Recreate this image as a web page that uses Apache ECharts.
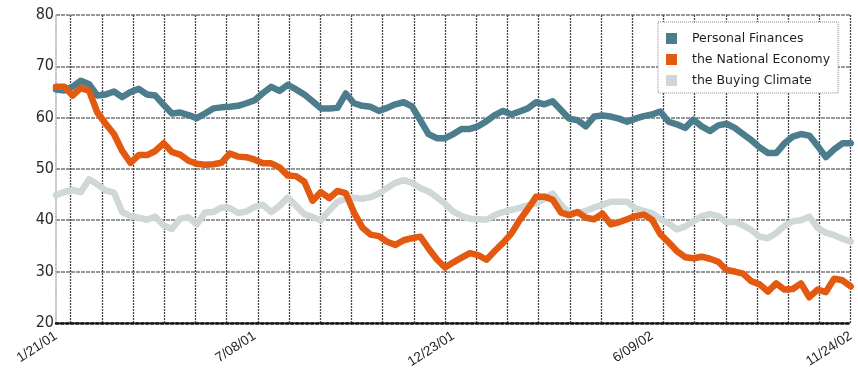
<!DOCTYPE html>
<html>
<head>
<meta charset="utf-8">
<script src="https://cdn.jsdelivr.net/npm/echarts@6/dist/echarts.min.js"></script>
<style>
  html, body { margin: 0; padding: 0; background: #fff; }
  #chart { width: 858px; height: 371px; }
</style>
</head>
<body>
<div id="chart"></div>
<script>
// Weekly survey readings, 1/21/01 through 11/24/02 (97 weeks)
const tickLabels = ['1/21/01', '7/08/01', '12/23/01', '6/09/02', '11/24/02'];
const seriesNames = ['Personal Finances', 'the National Economy', 'the Buying Climate'];

const personalFinances = [
  65.5, 65.3, 66.0, 67.2, 66.5, 64.3, 64.5, 65.1, 64.0, 65.0,
  65.6, 64.5, 64.3, 62.5, 60.8, 61.0, 60.5, 59.9, 60.8, 61.8,
  62.0, 62.1, 62.3, 62.8, 63.4, 64.8, 66.0, 65.2, 66.4, 65.5,
  64.5, 63.2, 61.8, 61.8, 61.9, 64.7, 62.8, 62.3, 62.1, 61.3,
  61.9, 62.6, 63.0, 62.2, 59.5, 56.8, 56.0, 56.0, 56.8, 57.8,
  57.8, 58.3, 59.3, 60.5, 61.3, 60.6, 61.2, 61.8, 63.0, 62.6,
  63.2, 61.5, 59.8, 59.5, 58.3, 60.2, 60.4, 60.2, 59.8, 59.2,
  59.8, 60.3, 60.6, 61.2, 59.2, 58.7, 58.0, 59.6, 58.3, 57.4,
  58.5, 58.8, 58.0, 56.8, 55.6, 54.2, 53.1, 53.1, 55.0, 56.3,
  56.8, 56.5, 54.5, 52.3, 53.8, 55.0, 55.0
];

const nationalEconomy = [
  66.0, 66.0, 64.3, 65.8, 65.2, 61.0, 58.8, 56.8, 53.5, 51.2,
  52.7, 52.7, 53.5, 55.0, 53.3, 52.8, 51.6, 51.0, 50.8, 50.9,
  51.2, 53.0, 52.4, 52.3, 51.8, 51.1, 51.1, 50.3, 48.7, 48.6,
  47.5, 43.8, 45.5, 44.3, 45.7, 45.3, 41.5, 38.6, 37.2, 36.9,
  35.8, 35.2, 36.1, 36.5, 36.8, 34.5, 32.4, 30.8, 31.8, 32.7,
  33.6, 33.2, 32.3, 34.0, 35.6, 37.4, 40.0, 42.2, 44.6, 44.6,
  44.0, 41.5, 41.0, 41.6, 40.5, 40.2, 41.3, 39.2, 39.6, 40.2,
  40.8, 41.1, 40.1, 37.3, 35.7, 34.0, 32.8, 32.6, 32.9, 32.5,
  31.9, 30.3, 30.0, 29.6, 28.1, 27.5, 26.1, 27.7, 26.5, 26.6,
  27.7, 25.0, 26.5, 26.0, 28.6, 28.3, 27.1
];

const buyingClimate = [
  44.9, 45.5, 45.9, 45.5, 48.0, 47.0, 45.8, 45.4, 41.6, 40.8,
  40.5, 40.1, 40.7, 39.0, 38.3, 40.3, 40.6, 39.2, 41.5, 41.6,
  42.5, 42.4, 41.4, 41.7, 42.6, 43.0, 41.6, 42.8, 44.4, 42.8,
  41.2, 40.6, 40.0, 41.9, 43.6, 44.2, 44.4, 44.2, 44.5, 45.2,
  46.3, 47.3, 47.8, 47.3, 46.3, 45.6, 44.5, 43.2, 41.7, 40.8,
  40.3, 40.2, 40.1, 41.0, 41.6, 42.0, 42.4, 42.9, 43.3, 44.2,
  45.2, 43.0, 41.4, 41.4, 41.8, 42.5, 43.0, 43.6, 43.6, 43.6,
  42.3, 41.8, 41.4, 40.2, 39.4, 38.2, 38.8, 39.8, 40.8, 41.2,
  40.8, 39.6, 39.7, 39.0, 38.1, 36.8, 36.5, 37.5, 38.9, 39.8,
  40.0, 40.7, 38.5, 37.6, 37.1, 36.4, 35.8
];

const colors = ['#4c7d8d', '#e2590f', '#d0d7d7'];

const withWeek = arr => arr.map((v, i) => [i, v]);
const weeks = personalFinances.length - 1;

const chart = echarts.init(document.getElementById('chart'), null, { renderer: 'canvas' });

const lineSeries = (name, data, color, z) => ({
  name,
  type: 'line',
  xAxisIndex: 0,
  yAxisIndex: 0,
  data: withWeek(data),
  showSymbol: false,
  z,
  color,
  lineStyle: { color, width: 6.5, join: 'round', cap: 'round' },
  emphasis: { disabled: true },
  animation: false
});

chart.setOption({
  backgroundColor: '#ffffff',
  animation: false,
  grid: [
    { left: 56, right: 7.3, top: 15, bottom: 48 },
    // vertical rule lines sit on their own 31.2px rhythm
    { left: 70.7, right: 7.3, top: 15, bottom: 48 }
  ],
  legend: {
    data: seriesNames,
    orient: 'vertical',
    left: 658,
    top: 22,
    backgroundColor: '#ffffff',
    borderColor: '#8a8a8a',
    borderWidth: 1,
    borderType: 'dotted',
    padding: [10, 8, 6, 8],
    itemGap: 8,
    itemWidth: 11,
    itemHeight: 11,
    icon: 'rect',
    selectedMode: false,
    textStyle: {
      fontFamily: 'DejaVu Sans',
      fontSize: 12.5,
      color: '#1e1e1e',
      padding: [0, 0, 0, 10]
    }
  },
  xAxis: [
    {
      type: 'value',
      gridIndex: 0,
      min: 0,
      max: weeks,
      interval: 24,
      axisLine: { show: true, lineStyle: { color: '#111', width: 2.5, type: 'dotted' } },
      axisTick: { show: false },
      splitLine: { show: false },
      axisLabel: {
        rotate: 33,
        margin: 12,
        fontFamily: 'Liberation Sans, Arial, sans-serif',
        fontSize: 13.5,
        color: '#222',
        formatter: v => tickLabels[Math.round(v / 24)] || ''
      }
    },
    {
      type: 'value',
      gridIndex: 1,
      min: 0,
      max: 25,
      interval: 1,
      axisLine: { show: false },
      axisTick: { show: false },
      axisLabel: { show: false },
      splitLine: { show: true, lineStyle: { color: '#474747', width: 1.3, type: [2, 1] } }
    }
  ],
  yAxis: [
    {
      type: 'value',
      gridIndex: 0,
      min: 20,
      max: 80,
      interval: 10,
      axisLine: { show: true, lineStyle: { color: '#b0b0b0', width: 1.5, type: 'dotted' } },
      axisTick: { show: false },
      splitLine: { show: true, lineStyle: { color: '#777777', width: 1.6, type: [4, 1] } },
      axisLabel: {
        margin: 2,
        fontFamily: 'Liberation Sans Narrow, DejaVu Sans Condensed, Liberation Sans, sans-serif',
        fontSize: 16,
        color: '#2a2a2a'
      }
    },
    {
      type: 'value',
      gridIndex: 1,
      min: 0,
      max: 1,
      show: false
    }
  ],
  series: [
    lineSeries(seriesNames[2], buyingClimate, colors[2], 2),
    lineSeries(seriesNames[0], personalFinances, colors[0], 3),
    lineSeries(seriesNames[1], nationalEconomy, colors[1], 4)
  ]
});
</script>
</body>
</html>
